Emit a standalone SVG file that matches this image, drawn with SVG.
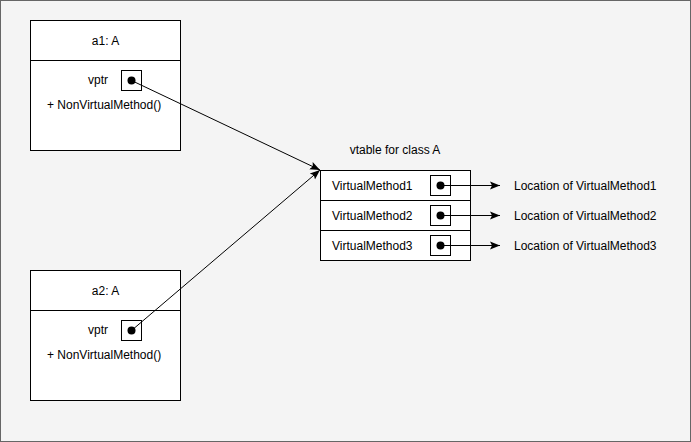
<svg xmlns="http://www.w3.org/2000/svg" width="691" height="442" viewBox="0 0 691 442">
<style>
.bx{fill:#fff;stroke:#000;stroke-width:1}
.ln{stroke:#000;stroke-width:1;fill:none}
.dot{fill:#000}
text{font-family:"Liberation Sans",Arial,sans-serif;font-size:12px;fill:#000}
.c{text-anchor:middle}
</style>
<defs>
<marker id="ah" viewBox="0 0 10 10" refX="10" refY="5" markerWidth="10" markerHeight="10" markerUnits="userSpaceOnUse" orient="auto">
<path d="M0,1 L10,5 L0,9 L2,5 Z" fill="#000"/>
</marker>
</defs>
<rect x="0.5" y="0.5" width="690" height="441" fill="#f4f4f4" stroke="#666"/>
<g id="a1">
<rect class="bx" x="30.5" y="20.5" width="150" height="130"/>
<line class="ln" x1="30.5" y1="60.5" x2="180.5" y2="60.5"/>
<text class="c" x="105.5" y="45">a1: A</text>
<text x="88" y="84">vptr</text>
<rect class="bx" x="121.5" y="70.5" width="20" height="20"/>
<circle class="dot" cx="131.5" cy="80.5" r="4"/>
<text x="47" y="109">+ NonVirtualMethod()</text>
</g>
<g id="a2">
<rect class="bx" x="30.5" y="270.5" width="150" height="130"/>
<line class="ln" x1="30.5" y1="310.5" x2="180.5" y2="310.5"/>
<text class="c" x="105.5" y="295">a2: A</text>
<text x="88" y="334">vptr</text>
<rect class="bx" x="121.5" y="320.5" width="20" height="20"/>
<circle class="dot" cx="131.5" cy="330.5" r="4"/>
<text x="47" y="359">+ NonVirtualMethod()</text>
</g>
<g id="vtable">
<text class="c" x="395" y="154">vtable for class A</text>
<rect class="bx" x="320.5" y="170.5" width="150" height="90"/>
<line class="ln" x1="320.5" y1="200.5" x2="470.5" y2="200.5"/>
<line class="ln" x1="320.5" y1="230.5" x2="470.5" y2="230.5"/>
<text x="332" y="190">VirtualMethod1</text>
<text x="332" y="220">VirtualMethod2</text>
<text x="332" y="250">VirtualMethod3</text>
<rect class="bx" x="430.5" y="175.5" width="20" height="20"/>
<rect class="bx" x="430.5" y="205.5" width="20" height="20"/>
<rect class="bx" x="430.5" y="235.5" width="20" height="20"/>
<circle class="dot" cx="440.5" cy="185.5" r="4"/>
<circle class="dot" cx="440.5" cy="215.5" r="4"/>
<circle class="dot" cx="440.5" cy="245.5" r="4"/>
</g>
<g id="loc1"><text x="514" y="190">Location of VirtualMethod1</text></g>
<g id="loc2"><text x="514" y="220">Location of VirtualMethod2</text></g>
<g id="loc3"><text x="514" y="250">Location of VirtualMethod3</text></g>
<g id="connectors">
<line class="ln" x1="131.5" y1="80.5" x2="320" y2="170" marker-end="url(#ah)"/>
<line class="ln" x1="131.5" y1="330.5" x2="320" y2="170" marker-end="url(#ah)"/>
<line class="ln" x1="440.5" y1="185.5" x2="500" y2="185.5" marker-end="url(#ah)"/>
<line class="ln" x1="440.5" y1="215.5" x2="500" y2="215.5" marker-end="url(#ah)"/>
<line class="ln" x1="440.5" y1="245.5" x2="500" y2="245.5" marker-end="url(#ah)"/>
</g>
</svg>
